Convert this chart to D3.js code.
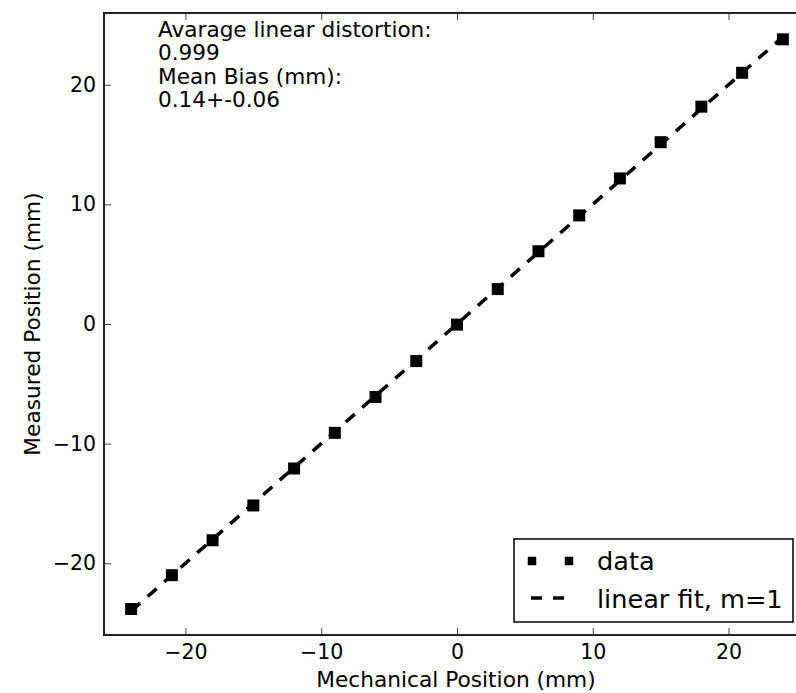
<!DOCTYPE html>
<html>
<head>
<meta charset="utf-8">
<script src="https://cdn.jsdelivr.net/npm/d3@7"></script>
<style>
  body { margin: 0; background: #fff; }
  svg { display: block; overflow: hidden; }
  text { font-family: "DejaVu Sans", sans-serif; fill: #000; }
</style>
</head>
<body>
<div id="viz"></div>
<script>
// data
const mechanical = [-24, -21, -18, -15, -12, -9, -6, -3, 0, 3, 6, 9, 12, 15, 18, 21, 24];
const measured   = [-23.83, -21.0, -18.08, -15.17, -12.08, -9.1, -6.1, -3.1, -0.05, 2.92, 6.08, 9.08, 12.17, 15.2, 18.17, 21.0, 23.8];
const fitLine    = [[-24, -24], [24, 24]];   // m = 1
const xTicks     = [-20, -10, 0, 10, 20];
const yTicks     = [-20, -10, 0, 10, 20];
const notes      = ["Avarage linear distortion:", "0.999", "Mean Bias (mm):", "0.14+-0.06"];
const legendLabels = ["data", "linear fit, m=1"];

const W = 796, H = 693;
const plot = { left: 104, top: 13, right: 810, bottom: 635 };

const svg = d3.select("#viz")
  .append("svg")
  .attr("width", W)
  .attr("height", H);

const x = d3.scaleLinear().domain([-26, 26]).range([plot.left, plot.right]);
const y = d3.scaleLinear().domain([-26, 26]).range([plot.bottom, plot.top]);

const points = mechanical.map((m, i) => ({ m, v: measured[i] }));

// fit line (dashed)
svg.append("path")
  .datum(fitLine)
  .attr("fill", "none")
  .attr("stroke", "#000")
  .attr("stroke-width", 3.5)
  .attr("stroke-dasharray", "12,10")
  .attr("d", d3.line().x(d => x(d[0])).y(d => y(d[1])));

// data squares
const sq = 12;
svg.selectAll("rect.pt")
  .data(points)
  .join("rect")
  .attr("class", "pt")
  .attr("x", d => x(d.m) - sq / 2)
  .attr("y", d => y(d.v) - sq / 2)
  .attr("width", sq)
  .attr("height", sq)
  .attr("fill", "#000");

// axes with inward ticks (classic style)
const tickStyle = g => {
  g.select(".domain").remove();
  g.selectAll(".tick line").attr("stroke", "#444").attr("stroke-width", 1);
  g.selectAll(".tick text").attr("font-size", 20.5).attr("font-family", "DejaVu Sans");
};

svg.append("g")
  .attr("transform", `translate(0,${plot.bottom})`)
  .call(d3.axisBottom(x).tickValues(xTicks).tickSizeInner(-7).tickPadding(9))
  .call(tickStyle);

svg.append("g")
  .attr("transform", `translate(0,${plot.top})`)
  .call(d3.axisTop(x).tickValues(xTicks).tickSizeInner(-7).tickFormat(""))
  .call(tickStyle);

svg.append("g")
  .attr("transform", `translate(${plot.left},0)`)
  .call(d3.axisLeft(y).tickValues(yTicks).tickSizeInner(-7).tickPadding(8))
  .call(tickStyle);

// frame
svg.append("rect")
  .attr("x", plot.left)
  .attr("y", plot.top)
  .attr("width", plot.right - plot.left)
  .attr("height", plot.bottom - plot.top)
  .attr("fill", "none")
  .attr("stroke", "#222")
  .attr("stroke-width", 2);

// axis labels
svg.append("text")
  .attr("x", 456)
  .attr("y", 687)
  .attr("text-anchor", "middle")
  .attr("font-size", 21.7)
  .text("Mechanical Position (mm)");

svg.append("text")
  .attr("transform", `translate(40,${(plot.top + plot.bottom) / 2}) rotate(-90)`)
  .attr("text-anchor", "middle")
  .attr("font-size", 21.7)
  .text("Measured Position (mm)");

// annotation
svg.append("g")
  .selectAll("text")
  .data(notes)
  .join("text")
  .attr("x", 158)
  .attr("y", (d, i) => 37 + i * 23.4)
  .attr("font-size", 21.6)
  .text(d => d);

// legend
const legend = svg.append("g");
legend.append("rect")
  .attr("x", 514).attr("y", 539)
  .attr("width", 279).attr("height", 83)
  .attr("fill", "#fff")
  .attr("stroke", "#000")
  .attr("stroke-width", 1.5);

const lsq = 8.5;
legend.selectAll("rect.lm")
  .data([532, 569])
  .join("rect")
  .attr("class", "lm")
  .attr("x", d => d - lsq / 2)
  .attr("y", 561 - lsq / 2)
  .attr("width", lsq).attr("height", lsq)
  .attr("fill", "#000");

legend.append("line")
  .attr("x1", 531).attr("x2", 566)
  .attr("y1", 598).attr("y2", 598)
  .attr("stroke", "#000")
  .attr("stroke-width", 3.5)
  .attr("stroke-dasharray", "11,11");

legend.selectAll("text")
  .data(legendLabels)
  .join("text")
  .attr("x", 597)
  .attr("y", (d, i) => 570 + i * 38)
  .attr("font-size", 25.6)
  .text(d => d);
</script>
</body>
</html>
